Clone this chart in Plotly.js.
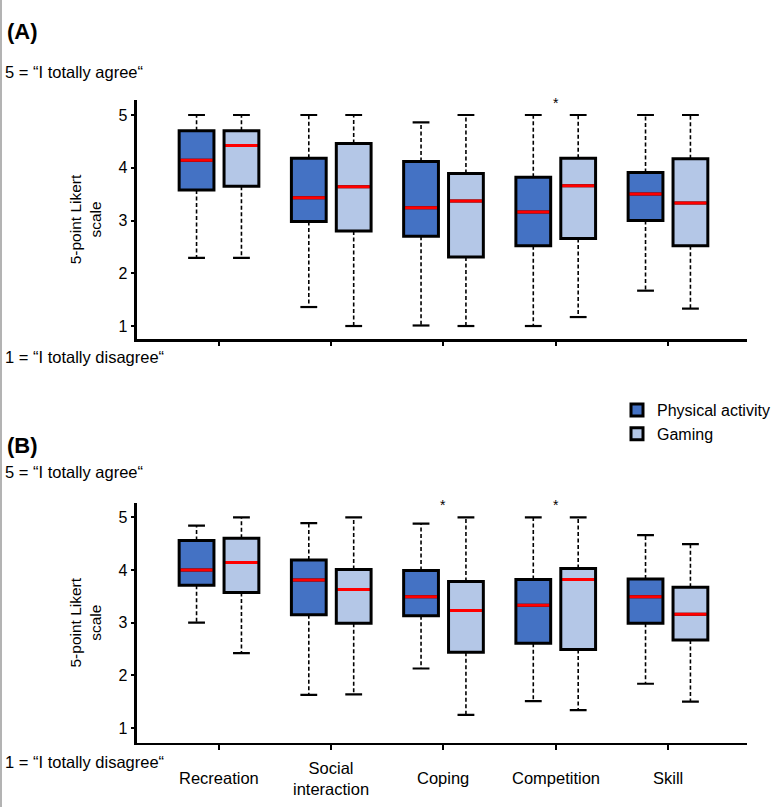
<!DOCTYPE html>
<html>
<head>
<meta charset="utf-8">
<script src="https://cdn.plot.ly/plotly-3.0.1.min.js"></script>
<style>
  html, body { margin: 0; padding: 0; background: #fff; }
  #chart { width: 777px; height: 807px; }
</style>
</head>
<body>
<div id="chart"></div>
<script>
// Motive categories (x axis) and the two activity series.
const categories = ['Recreation', 'Social<br>interaction', 'Coping', 'Competition', 'Skill'];
const seriesNames = ['Physical activity', 'Gaming'];

// (A) five-number summaries per category
const paMinA = [2.29, 1.36, 1.01, 1.00, 1.67];
const paQ1A  = [3.58, 2.98, 2.70, 2.52, 3.00];
const paMedA = [4.14, 3.43, 3.24, 3.16, 3.50];
const paQ3A  = [4.70, 4.18, 4.12, 3.82, 3.91];
const paMaxA = [5.00, 5.00, 4.86, 5.00, 5.00];

const gmMinA = [2.29, 1.00, 1.00, 1.17, 1.33];
const gmQ1A  = [3.65, 2.80, 2.31, 2.66, 2.52];
const gmMedA = [4.42, 3.64, 3.37, 3.66, 3.33];
const gmQ3A  = [4.70, 4.46, 3.89, 4.18, 4.17];
const gmMaxA = [5.00, 5.00, 5.00, 5.00, 5.00];

// (B) five-number summaries per category
const paMinB = [3.00, 1.63, 2.13, 1.51, 1.84];
const paQ1B  = [3.71, 3.15, 3.13, 2.61, 2.99];
const paMedB = [4.00, 3.81, 3.49, 3.33, 3.49];
const paQ3B  = [4.56, 4.19, 3.99, 3.82, 3.83];
const paMaxB = [4.84, 4.89, 4.88, 5.00, 4.66];

const gmMinB = [2.42, 1.64, 1.25, 1.34, 1.50];
const gmQ1B  = [3.57, 2.99, 2.44, 2.49, 2.67];
const gmMedB = [4.14, 3.63, 3.23, 3.82, 3.16];
const gmQ3B  = [4.60, 4.01, 3.78, 4.03, 3.67];
const gmMaxB = [5.00, 5.00, 5.00, 5.00, 4.49];

// significance markers per category
const sigA = ['', '', '', '*', ''];
const sigB = ['', '', '*', '*', ''];

const yTicks = [1, 2, 3, 4, 5];

// ---- styling / geometry ----
const FONT = 'Liberation Sans, Arial, sans-serif';
const W = 777, H = 807;
const PA_FILL = '#4472C4';
const GM_FILL = '#B4C7E7';
const PAIR_OFFSET = 0.2;     // half distance between the two boxes of a category
const BOX_W = 0.31;          // box width in category units
const CAP_HALF = 0.075;      // half width of whisker caps
const MED_HALF = 0.142;      // half width of the median bar

const idx = categories.map((_, i) => i);
const paPos = idx.map(i => i - PAIR_OFFSET);
const gmPos = idx.map(i => i + PAIR_OFFSET);

const px = v => v / W;          // horizontal pixel -> paper
const py = v => 1 - v / H;      // vertical pixel -> paper

function segs(xs0, xs1, ys0, ys1) {
  const x = [], y = [];
  for (let i = 0; i < xs0.length; i++) {
    x.push(xs0[i], xs1[i], null);
    y.push(ys0[i], ys1[i], null);
  }
  return { x, y };
}

function series(pos, lo, q1, med, q3, hi, fill, name, xa, ya, legend) {
  const out = [];
  // dashed whisker stems
  const up = segs(pos, pos, q3, hi);
  const dn = segs(pos, pos, q1, lo);
  out.push({
    type: 'scatter', mode: 'lines', xaxis: xa, yaxis: ya,
    x: up.x.concat(dn.x), y: up.y.concat(dn.y),
    line: { color: '#000', width: 1.6, dash: '4px,2.5px' },
    hoverinfo: 'skip', showlegend: false
  });
  // whisker caps
  const cl = pos.map(p => p - CAP_HALF), cr = pos.map(p => p + CAP_HALF);
  const cu = segs(cl, cr, hi, hi), cd = segs(cl, cr, lo, lo);
  out.push({
    type: 'scatter', mode: 'lines', xaxis: xa, yaxis: ya,
    x: cu.x.concat(cd.x), y: cu.y.concat(cd.y),
    line: { color: '#000', width: 2.2 },
    hoverinfo: 'skip', showlegend: false
  });
  // interquartile box
  out.push({
    type: 'box', name: name, xaxis: xa, yaxis: ya,
    x: pos, q1: q1, median: med, q3: q3, lowerfence: q1, upperfence: q3,
    width: BOX_W, whiskerwidth: 0, boxpoints: false,
    fillcolor: fill, line: { color: '#000', width: 3 },
    hoverinfo: 'skip', showlegend: legend
  });
  // red median bar
  const m = segs(pos.map(p => p - MED_HALF), pos.map(p => p + MED_HALF), med, med);
  out.push({
    type: 'scatter', mode: 'lines', xaxis: xa, yaxis: ya,
    x: m.x, y: m.y, line: { color: '#FF0000', width: 3 },
    hoverinfo: 'skip', showlegend: false
  });
  return out;
}

const data = [].concat(
  series(paPos, paMinA, paQ1A, paMedA, paQ3A, paMaxA, PA_FILL, seriesNames[0], 'x', 'y', true),
  series(gmPos, gmMinA, gmQ1A, gmMedA, gmQ3A, gmMaxA, GM_FILL, seriesNames[1], 'x', 'y', true),
  series(paPos, paMinB, paQ1B, paMedB, paQ3B, paMaxB, PA_FILL, seriesNames[0], 'x2', 'y2', false),
  series(gmPos, gmMinB, gmQ1B, gmMedB, gmQ3B, gmMaxB, GM_FILL, seriesNames[1], 'x2', 'y2', false)
);

// axis geometry (pixels)
const X_LEFT = 136.5, X_RIGHT = 747;
const xRange = [-0.735, 4.704];
const yRangeA = [0.754, 5.284];
const yRangeB = [0.721, 5.277];
const domX = [px(X_LEFT), px(X_RIGHT)];
const domYA = [py(339), py(100)];
const domYB = [py(742.7), py(502.7)];

function xAxis(domain, anchor) {
  return {
    domain: domain, anchor: anchor, range: xRange, type: 'linear',
    tickvals: idx, showticklabels: false,
    ticks: 'outside', ticklen: 4.5, tickwidth: 2, tickcolor: '#000',
    showline: true, linecolor: '#000', linewidth: 2.5,
    showgrid: false, zeroline: false, fixedrange: true
  };
}
function yAxis(domain, anchor, range) {
  return {
    domain: domain, anchor: anchor, range: range,
    tickvals: yTicks, ticks: 'outside', ticklen: 3.5, tickwidth: 2, tickcolor: '#000',
    tickfont: { family: FONT, size: 16, color: '#000' },
    showline: true, linecolor: '#000', linewidth: 2.5,
    showgrid: false, zeroline: false, fixedrange: true,
    title: { text: '5-point Likert<br>scale', font: { family: FONT, size: 15.5, color: '#000' }, standoff: 13 }
  };
}
// companion axes that draw the inner half of each crossing tick
function innerX(over, anchor) {
  return {
    overlaying: over, anchor: anchor, range: xRange, type: 'linear', tickvals: idx,
    ticks: 'inside', ticklen: 4, tickwidth: 2, tickcolor: '#000',
    showticklabels: false, showline: false, showgrid: false, zeroline: false, fixedrange: true
  };
}
function innerY(over, anchor, range) {
  return {
    overlaying: over, anchor: anchor, range: range, tickvals: yTicks,
    ticks: 'inside', ticklen: 5, tickwidth: 2, tickcolor: '#000',
    showticklabels: false, showline: false, showgrid: false, zeroline: false, fixedrange: true
  };
}

const annotations = [];
const txt = { family: FONT, size: 16.5, color: '#000' };
function note(text, xPx, yPx, font) {
  annotations.push({
    text: text, xref: 'paper', yref: 'paper', x: px(xPx), y: py(yPx),
    xanchor: 'left', yanchor: 'middle', showarrow: false, font: font || txt
  });
}
const bold = { family: FONT, size: 22, color: '#000', weight: 'bold' };
note('<b>(A)</b>', 5, 31, bold);
note('5 = “I totally agree“', 3, 72);
note('1 = “I totally disagree“', 3, 357);
note('<b>(B)</b>', 5, 445, bold);
note('5 = “I totally agree“', 3, 472);
note('1 = “I totally disagree“', 3, 762);

// category names under panel (B)
categories.forEach((c, i) => {
  annotations.push({
    text: c, xref: 'x2', yref: 'paper', x: i, y: py(778),
    xanchor: 'center', yanchor: 'middle', showarrow: false, font: txt
  });
});

// significance stars
function stars(sig, xa, ya) {
  sig.forEach((s, i) => {
    if (!s) return;
    annotations.push({
      text: s, xref: xa, yref: ya, x: i, y: 5.23,
      xanchor: 'center', yanchor: 'middle', showarrow: false,
      font: { family: FONT, size: 14, color: '#000' }
    });
  });
}
stars(sigA, 'x', 'y');
stars(sigB, 'x2', 'y2');

const layout = {
  width: W, height: H,
  margin: { l: 0, r: 0, t: 0, b: 0 },
  paper_bgcolor: '#fff', plot_bgcolor: 'rgba(0,0,0,0)',
  font: { family: FONT, color: '#000' },
  xaxis: xAxis(domX, 'y'),
  yaxis: yAxis(domYA, 'x', yRangeA),
  xaxis2: xAxis(domX, 'y2'),
  yaxis2: yAxis(domYB, 'x2', yRangeB),
  xaxis3: innerX('x', 'y'),
  yaxis3: innerY('y', 'x', yRangeA),
  xaxis4: innerX('x2', 'y2'),
  yaxis4: innerY('y2', 'x2', yRangeB),
  showlegend: true,
  legend: {
    x: px(617), y: py(393), xanchor: 'left', yanchor: 'top',
    bgcolor: 'rgba(0,0,0,0)', font: { family: FONT, size: 16, color: '#000' },
    tracegroupgap: 0, itemclick: false, itemdoubleclick: false
  },
  annotations: annotations,
  shapes: [{
    type: 'line', xref: 'paper', yref: 'paper', x0: px(1), x1: px(1), y0: 0, y1: 1,
    line: { color: '#9a9a9a', width: 1.5 }
  }]
};

Plotly.newPlot('chart', data, layout, { staticPlot: true, displayModeBar: false });
</script>
</body>
</html>
